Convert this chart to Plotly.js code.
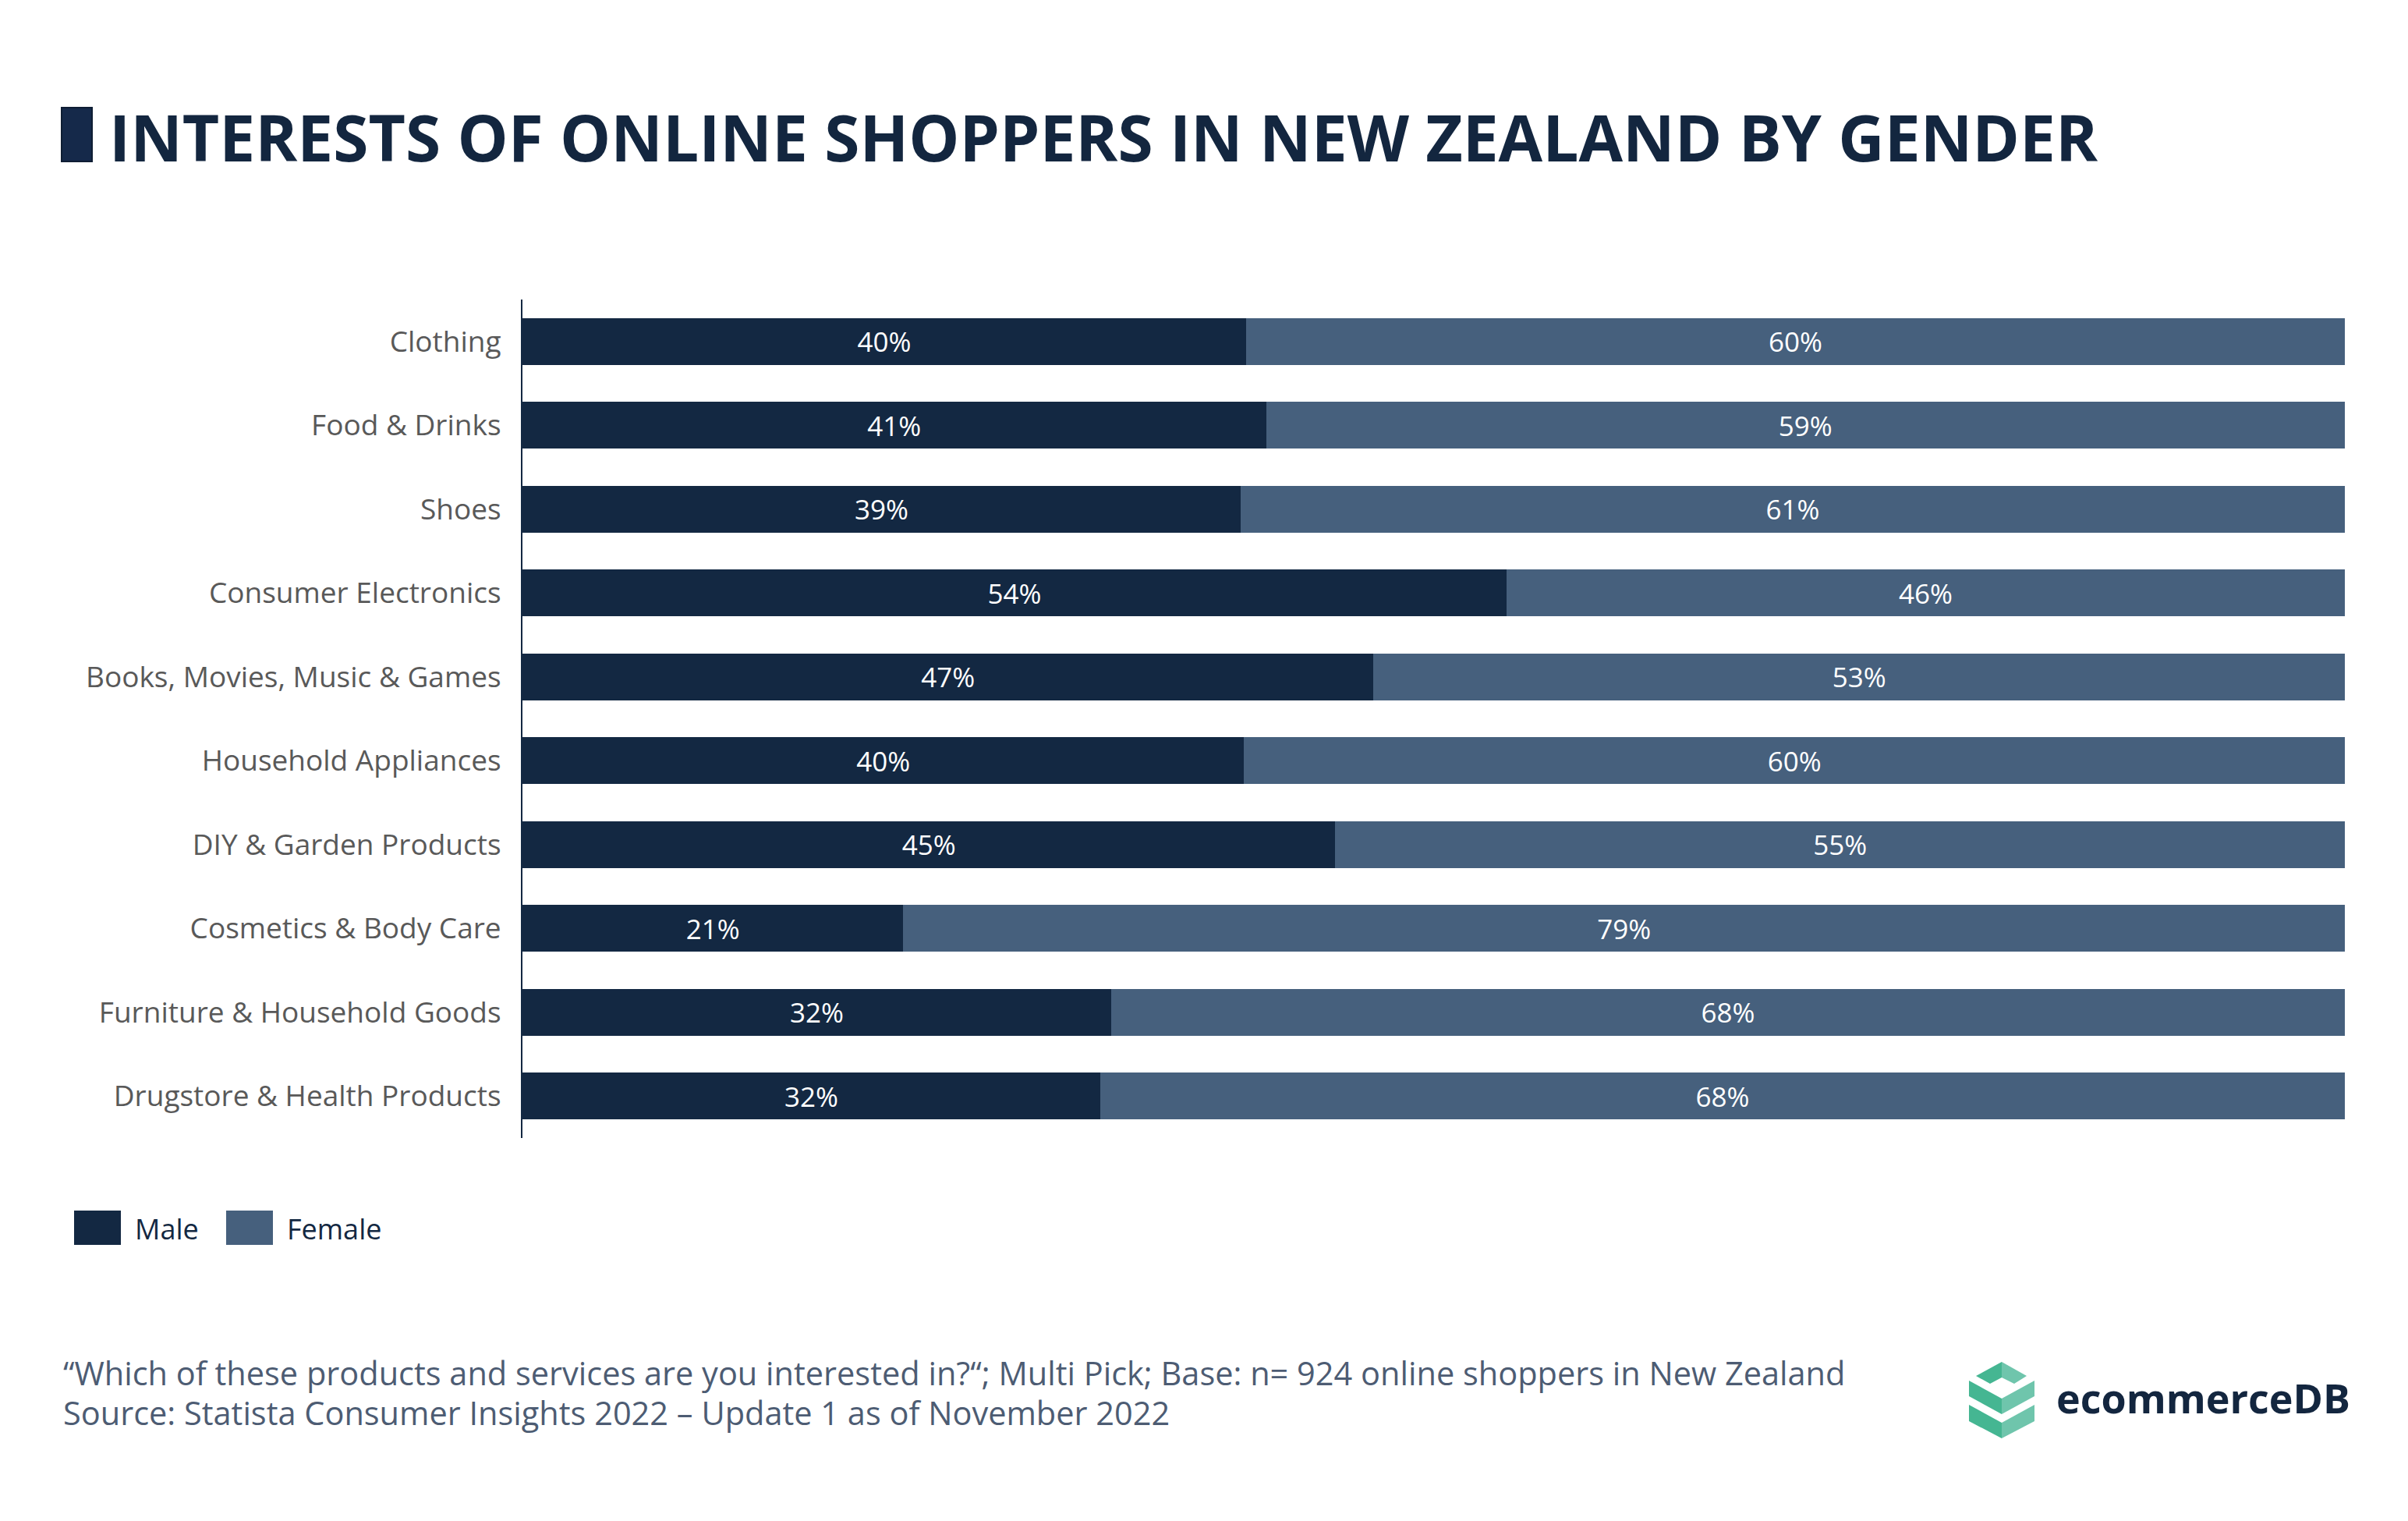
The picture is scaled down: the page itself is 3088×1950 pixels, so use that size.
<!DOCTYPE html>
<html>
<head>
<meta charset="utf-8">
<script src="https://cdn.plot.ly/plotly-3.0.1.min.js"></script>
<style>html,body{margin:0;padding:0;background:#fff;}#chart{width:3088px;height:1950px;}</style>
</head>
<body>
<div id="chart"></div>
<script>
// ---- data ----
const categories = [
  "Clothing",
  "Food & Drinks",
  "Shoes",
  "Consumer Electronics",
  "Books, Movies, Music & Games",
  "Household Appliances",
  "DIY & Garden Products",
  "Cosmetics & Body Care",
  "Furniture & Household Goods",
  "Drugstore & Health Products"
];
const maleShare   = [39.7, 40.8, 39.4, 54.0, 46.7, 39.6, 44.6, 20.9, 32.3, 31.7];
const femaleShare = [60.3, 59.2, 60.6, 46.0, 53.3, 60.4, 55.4, 79.1, 67.7, 68.3];
const seriesNames = ["Male", "Female"];
const seriesColors = ["#132842", "#46607d"];
const titleText = "INTERESTS OF ONLINE SHOPPERS IN NEW ZEALAND BY GENDER";
const footnoteLines = [
  "\u201CWhich of these products and services are you interested in?\u201C; Multi Pick; Base: n= 924 online shoppers in New Zealand",
  "Source: Statista Consumer Insights 2022 \u2013 Update 1 as of November 2022"
];
const brandText = "ecommerceDB";

// ---- geometry ----
const W = 3088, H = 1950;
const M = {l: 670, r: 81, t: 384, b: 491};
const PW = W - M.l - M.r, PH = H - M.t - M.b;
const px = X => (X - M.l) / PW;
const py = Y => (H - M.b - Y) / PH;
function path(pts) {
  return "M" + pts.map(p => px(p[0]).toFixed(5) + "," + py(p[1]).toFixed(5)).join("L") + "Z";
}

const shareText = arr => arr.map(v => Math.round(v) + "%");

const traces = [
  {
    type: "bar", orientation: "h", name: seriesNames[0],
    y: categories, x: maleShare,
    marker: {color: seriesColors[0], line: {width: 0}},
    text: shareText(maleShare), textposition: "inside", insidetextanchor: "middle",
    textangle: 0, constraintext: "none",
    textfont: {family: "Open Sans", size: 35, color: "#ffffff"},
    hoverinfo: "skip", showlegend: false
  },
  {
    type: "bar", orientation: "h", name: seriesNames[1],
    y: categories, x: femaleShare,
    marker: {color: seriesColors[1], line: {width: 0}},
    text: shareText(femaleShare), textposition: "inside", insidetextanchor: "middle",
    textangle: 0, constraintext: "none",
    textfont: {family: "Open Sans", size: 35, color: "#ffffff"},
    hoverinfo: "skip", showlegend: false
  }
];

const shapes = [];
// title marker
shapes.push({type: "rect", xref: "paper", yref: "paper",
  x0: px(79), x1: px(118), y0: py(207), y1: py(138),
  fillcolor: "#15294a", line: {color: "#0e1d33", width: 2}});
// legend squares
const legendX = [95, 290];
seriesNames.forEach((n, i) => {
  shapes.push({type: "rect", xref: "paper", yref: "paper",
    x0: px(legendX[i]), x1: px(legendX[i] + 60), y0: py(1596), y1: py(1552),
    fillcolor: seriesColors[i], line: {width: 0}});
});
// logo icon
const dark = "#45b692", light = "#6fc5ac";
const cx = 2567;
const iconParts = [
  [[[2534,1764],[cx,1746],[cx,1766],[2552,1774]], dark],
  [[[cx,1746],[2599,1764],[2583,1774],[cx,1766]], light],
  [[[2525,1770],[cx,1793],[cx,1813],[2525,1790]], dark],
  [[[cx,1793],[2609,1770],[2609,1790],[cx,1813]], light],
  [[[2525,1801],[cx,1824],[cx,1844],[2525,1822]], dark],
  [[[cx,1824],[2609,1801],[2609,1822],[cx,1844]], light]
];
iconParts.forEach(p => shapes.push({type: "path", xref: "paper", yref: "paper",
  path: path(p[0]), fillcolor: p[1], line: {width: 0}}));

const annotations = [];
seriesNames.forEach((n, i) => {
  annotations.push({xref: "paper", yref: "paper", x: px(legendX[i] + 76), y: py(1575),
    xanchor: "left", yanchor: "middle", showarrow: false, text: n,
    font: {family: "Open Sans", size: 36, color: "#132842"}});
});
const footY = [1760, 1811];
footnoteLines.forEach((t, i) => {
  annotations.push({xref: "paper", yref: "paper", x: px(79), y: py(footY[i]),
    xanchor: "left", yanchor: "middle", align: "left", showarrow: false,
    text: t, font: {family: "Open Sans", size: 41.5, color: "#4d5c73"}});
});
annotations.push({xref: "paper", yref: "paper", x: px(2635), y: py(1792),
  xanchor: "left", yanchor: "middle", showarrow: false, text: "<b>" + brandText + "</b>",
  font: {family: "Open Sans", size: 52, color: "#13263f"}});

const layout = {
  width: W, height: H,
  margin: M,
  paper_bgcolor: "#ffffff", plot_bgcolor: "#ffffff",
  barmode: "stack", bargap: 0.44,
  showlegend: false,
  title: {text: "<b>" + titleText + "</b>", xref: "container", yref: "container",
    x: 140 / W, xanchor: "left", y: 1 - 178 / H, yanchor: "middle",
    font: {family: "Open Sans", size: 82, color: "#13263f"}},
  xaxis: {range: [0, 100], showgrid: false, zeroline: false, showticklabels: false,
    showline: false, fixedrange: true},
  yaxis: {autorange: "reversed", showgrid: false, zeroline: false, showline: true,
    linecolor: "#132842", linewidth: 2, ticks: "", ticklabelstandoff: 18,
    tickfont: {family: "Open Sans", size: 37, color: "#595959"}},
  shapes: shapes, annotations: annotations
};

Plotly.newPlot("chart", traces, layout, {displayModeBar: false, staticPlot: true});
</script>
</body>
</html>
